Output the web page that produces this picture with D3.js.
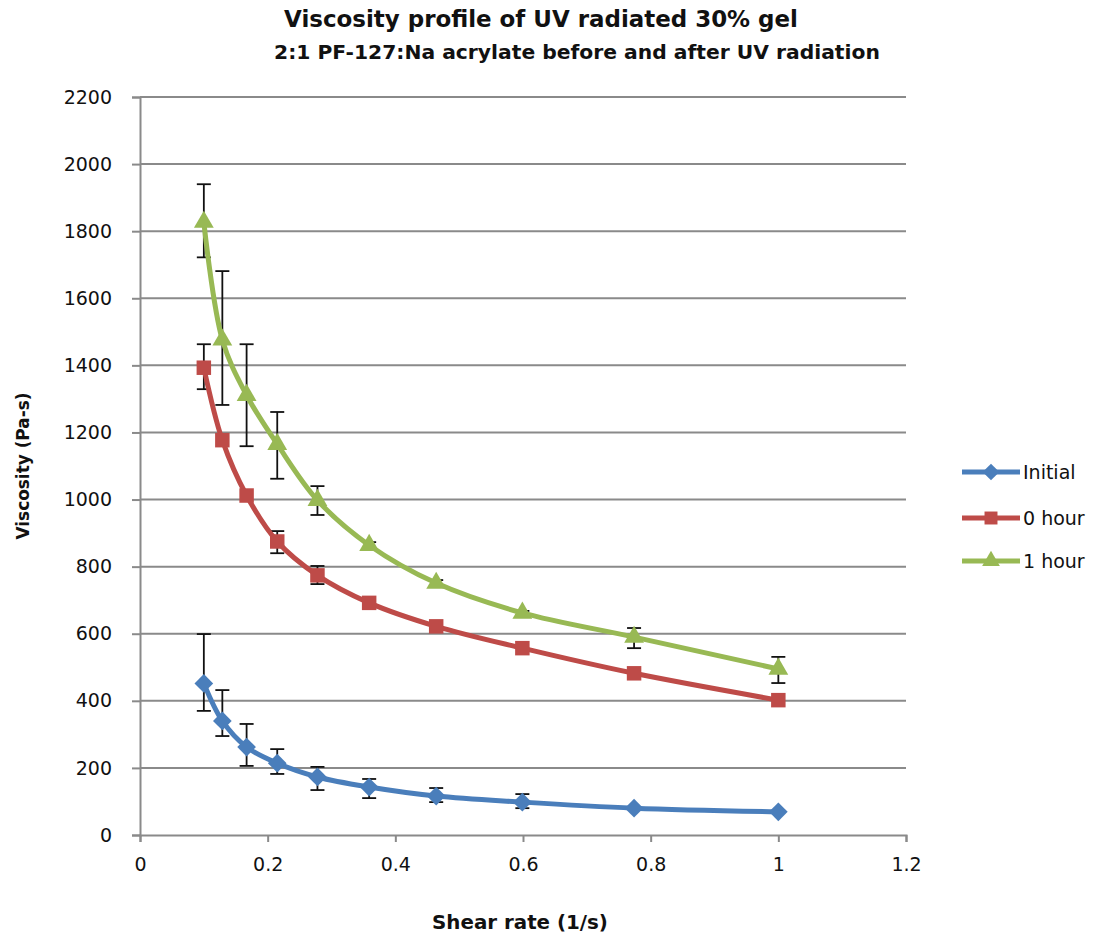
<!DOCTYPE html>
<html>
<head>
<meta charset="utf-8">
<script src="https://cdn.jsdelivr.net/npm/d3@7"></script>
<style>
  body { margin: 0; background: #fff; }
  svg { display: block; font-family: "DejaVu Sans", sans-serif; }
</style>
</head>
<body>
<svg id="chart" width="1102" height="936"></svg>
<script>
// data
const shearRate = [0.1, 0.129, 0.167, 0.215, 0.278, 0.359, 0.464, 0.599, 0.774, 1];

const initial   = [452, 340, 262, 214, 173, 143, 116, 98, 80, 69];
const initialHi = [599, 432, 331, 256, 203, 167, 140, 122, null, null];
const initialLo = [370, 295, 206, 182, 134, 110, 98, 80, null, null];

const hour0   = [1393, 1177, 1012, 875, 774, 692, 622, 557, 482, 402];
const hour0Hi = [1463, null, null, 906, 802, null, null, null, null, null];
const hour0Lo = [1329, null, null, 840, 748, null, null, null, null, null];

const hour1   = [1827, 1476, 1311, 1165, 998, 864, 751, 662, 590, 495];
const hour1Hi = [1940, 1681, 1463, 1261, 1040, 873, 760, 668, 617, 531];
const hour1Lo = [1722, 1282, 1159, 1062, 954, 855, 742, 656, 557, 453];

const seriesNames = ["Initial", "0 hour", "1 hour"];
const xTicks = [0, 0.2, 0.4, 0.6, 0.8, 1, 1.2];
const yTicks = d3.range(0, 2201, 200);

const series = [
  { name: seriesNames[0], vals: initial, hi: initialHi, lo: initialLo, color: "#4a7ebb", shape: d3.symbolSquare, size: 175, rot: 45 },
  { name: seriesNames[1], vals: hour0, hi: hour0Hi, lo: hour0Lo, color: "#be4b48", shape: d3.symbolSquare, size: 210, rot: 0 },
  { name: seriesNames[2], vals: hour1, hi: hour1Hi, lo: hour1Lo, color: "#98b954", shape: d3.symbolTriangle, size: 170, rot: 0 }
];

const svg = d3.select("#chart");
const x = d3.scaleLinear().domain([0, 1.2]).range([140, 906]);
const y = d3.scaleLinear().domain([0, 2200]).range([835, 97]);
const gridColor = "#8a8a8a";

// fit a text element to a target width by adjusting its font size
function fitWidth(sel, target) {
  const fs = parseFloat(sel.attr("font-size"));
  const w = sel.node().getComputedTextLength();
  sel.attr("font-size", (fs * target / w).toFixed(2));
}

// gridlines
svg.append("g").selectAll("line").data(yTicks.filter(d => d > 0)).enter().append("line")
  .attr("x1", 140).attr("x2", 906)
  .attr("y1", d => y(d)).attr("y2", d => y(d))
  .attr("stroke", gridColor).attr("stroke-width", 2);

// axes
const yAxis = svg.append("g").attr("transform", "translate(140,0)")
  .call(d3.axisLeft(y).tickValues(yTicks).tickSize(8).tickPadding(20).tickFormat(d3.format("d")));
const xAxis = svg.append("g").attr("transform", "translate(0,835)")
  .call(d3.axisBottom(x).tickValues(xTicks).tickSize(7).tickPadding(16).tickFormat(d3.format("")));
[yAxis, xAxis].forEach(a => {
  a.select(".domain").attr("stroke", gridColor).attr("stroke-width", 2);
  a.selectAll(".tick line").attr("stroke", gridColor).attr("stroke-width", 2);
  a.selectAll("text").attr("font-size", 19).attr("fill", "#111").attr("font-family", "DejaVu Sans");
});

// error bars
series.forEach(s => {
  const g = svg.append("g").attr("stroke", "#111").attr("stroke-width", 1.8);
  s.vals.forEach((v, i) => {
    if (s.hi[i] == null) return;
    const cx = x(shearRate[i]);
    g.append("line").attr("x1", cx).attr("x2", cx).attr("y1", y(s.hi[i])).attr("y2", y(s.lo[i]));
    g.append("line").attr("x1", cx - 7).attr("x2", cx + 7).attr("y1", y(s.hi[i])).attr("y2", y(s.hi[i]));
    g.append("line").attr("x1", cx - 7).attr("x2", cx + 7).attr("y1", y(s.lo[i])).attr("y2", y(s.lo[i]));
  });
});

// lines and markers
const line = d3.line().x((d, i) => x(shearRate[i])).y(d => y(d)).curve(d3.curveCatmullRom.alpha(0.5));
series.forEach(s => {
  svg.append("path").datum(s.vals)
    .attr("fill", "none").attr("stroke", s.color).attr("stroke-width", 5).attr("d", line);
  svg.append("g").selectAll("path").data(s.vals).enter().append("path")
    .attr("transform", (d, i) => `translate(${x(shearRate[i])},${y(d)}) rotate(${s.rot})`)
    .attr("d", d3.symbol().type(s.shape).size(s.size))
    .attr("fill", s.color);
});

// legend
const leg = svg.append("g");
series.forEach((s, i) => {
  const ly = [472, 518, 561][i];
  leg.append("line").attr("x1", 962).attr("x2", 1020).attr("y1", ly).attr("y2", ly)
    .attr("stroke", s.color).attr("stroke-width", 5);
  leg.append("path").attr("transform", `translate(991,${ly}) rotate(${s.rot})`)
    .attr("d", d3.symbol().type(s.shape).size(s.size * 0.8)).attr("fill", s.color);
  leg.append("text").attr("x", 1023).attr("y", ly).attr("dy", "0.36em")
    .attr("font-size", 19).attr("fill", "#111").text(s.name);
});

// titles
const t1 = svg.append("text").attr("x", 541).attr("y", 27).attr("text-anchor", "middle")
  .attr("font-size", 21).attr("font-weight", "bold").attr("fill", "#111")
  .text("Viscosity profile of UV radiated 30% gel");
fitWidth(t1, 514);
const t2 = svg.append("text").attr("x", 577).attr("y", 59).attr("text-anchor", "middle")
  .attr("font-size", 21).attr("font-weight", "bold").attr("fill", "#111")
  .text("2:1 PF-127:Na acrylate before and after UV radiation");
fitWidth(t2, 606);

const xt = svg.append("text").attr("x", 520).attr("y", 929).attr("text-anchor", "middle")
  .attr("font-size", 18).attr("font-weight", "bold").attr("fill", "#111")
  .text("Shear rate (1/s)");
fitWidth(xt, 176);
const yt = svg.append("text").attr("transform", "translate(29,466) rotate(-90)").attr("text-anchor", "middle")
  .attr("font-size", 18).attr("font-weight", "bold").attr("fill", "#111")
  .text("Viscosity (Pa-s)");
fitWidth(yt, 147);
</script>
</body>
</html>
